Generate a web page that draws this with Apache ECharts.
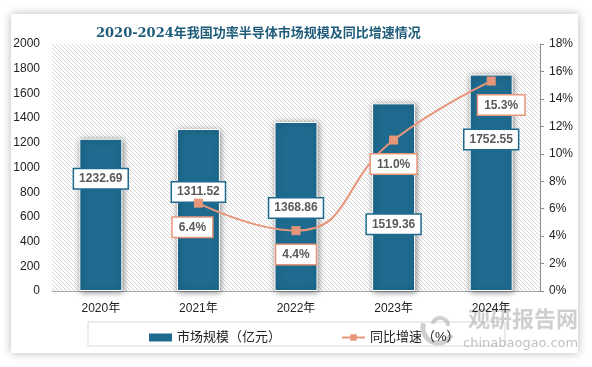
<!DOCTYPE html>
<html>
<head>
<meta charset="utf-8">
<script src="https://cdn.jsdelivr.net/npm/echarts@6/dist/echarts.min.js"></script>
<style>
html,body{margin:0;padding:0;background:#fff;width:592px;height:367px;overflow:hidden;}
#card{position:absolute;left:11px;top:14px;width:567px;height:339px;background:#fff;box-shadow:0 0 9px rgba(0,0,0,0.28);}
#chart{position:absolute;left:0;top:0;width:592px;height:367px;}
</style>
</head>
<body>
<div id="card"></div>
<div id="chart"></div>
<script>
// ---- data ----
var categories = ['2020年', '2021年', '2022年', '2023年', '2024年'];
var marketSize = [1232.69, 1311.52, 1368.86, 1519.36, 1752.55];   // 亿元
var growthRate = [null, 6.4, 4.4, 11.0, 15.3];                    // %
var leftTicks = { min: 0, max: 2000, interval: 200 };
var rightTicks = { min: 0, max: 18, interval: 2 };
var seriesNames = ['市场规模（亿元）', '同比增速（%）'];
var titleText = '2020-2024年我国功率半导体市场规模及同比增速情况';

// label placement styling (not data)
var barLabelDy = [40, 63, 86, 121, 65];
var lineLabelDx = [0, -6, 0, 0, 10];

var BAR = '#1E6B8F';
var LINE = '#E8967A';
var FONT = "'Liberation Sans', 'Noto Sans CJK SC', sans-serif";

// hatch pattern (diagonal "\" lines)
var pc = document.createElement('canvas');
pc.width = 8; pc.height = 8;
var g = pc.getContext('2d');
g.fillStyle = '#ffffff'; g.fillRect(0, 0, 8, 8);
g.strokeStyle = '#d6d6d6'; g.lineWidth = 1;
g.beginPath();
for (var k = -8; k <= 8; k += 4) {
  g.moveTo(k - 1, -1); g.lineTo(k + 9, 9);
}
g.stroke();

var barData = marketSize.map(function (v, i) {
  return {
    value: v,
    label: { position: ['50%', barLabelDy[i]] }
  };
});
var lineData = growthRate.map(function (v, i) {
  return { value: v, label: { offset: [lineLabelDx[i], 0] } };
});

var chart = echarts.init(document.getElementById('chart'), null, { renderer: 'canvas' });
chart.setOption({
  backgroundColor: 'transparent',
  animation: false,
  textStyle: { fontFamily: FONT },
  title: {
    text: titleText,
    left: 91, top: 22,
    textStyle: { fontFamily: "'DejaVu Serif', 'Noto Sans CJK SC', serif", fontSize: 13, fontWeight: 'bold', color: '#1F5C7A' }
  },
  grid: {
    left: 52, right: 52, top: 44, bottom: 76,
    show: true, borderWidth: 0,
    backgroundColor: { image: pc, repeat: 'repeat' }
  },
  legend: {
    left: 144, top: 326,
    itemWidth: 23, itemHeight: 8, itemGap: 60,
    textStyle: { fontSize: 13, color: '#222', fontFamily: FONT },
    data: [
      { name: seriesNames[0], icon: 'rect', itemStyle: { shadowBlur: 0, borderWidth: 0 } },
      { name: seriesNames[1] }
    ]
  },
  xAxis: {
    type: 'category',
    data: categories,
    axisLine: { lineStyle: { color: '#a6a6a6' } },
    axisTick: { show: false },
    axisLabel: { color: '#222', fontSize: 12, margin: 12, fontFamily: FONT }
  },
  yAxis: [
    {
      type: 'value', min: leftTicks.min, max: leftTicks.max, interval: leftTicks.interval,
      axisLine: { show: false }, axisTick: { show: false }, splitLine: { show: false },
      axisLabel: { color: '#222', fontSize: 12, margin: 12, fontFamily: FONT, formatter: function (v) { return String(v); } }
    },
    {
      type: 'value', min: rightTicks.min, max: rightTicks.max, interval: rightTicks.interval,
      position: 'right',
      axisLine: { show: true, lineStyle: { color: '#8c8c8c' } },
      axisTick: { show: true, length: 4, lineStyle: { color: '#8c8c8c' } },
      splitLine: { show: false },
      axisLabel: { color: '#222', fontSize: 12, margin: 9, formatter: '{value}%', fontFamily: FONT }
    }
  ],
  series: [
    {
      name: seriesNames[0],
      type: 'bar',
      barWidth: 43,
      data: barData,
      itemStyle: {
        color: BAR, borderColor: '#fff', borderWidth: 1,
        shadowBlur: 6, shadowColor: 'rgba(0,0,0,0.45)', shadowOffsetX: 1, shadowOffsetY: 1
      },
      label: {
        show: true,
        align: 'center', verticalAlign: 'middle',
        formatter: function (p) { return p.value.toFixed(2); },
        color: '#595959', fontWeight: 'bold', fontSize: 12, fontFamily: FONT,
        backgroundColor: '#fff', borderColor: BAR, borderWidth: 1.5,
        padding: [4, 5, 3, 5]
      },
      z: 2
    },
    {
      name: seriesNames[1],
      type: 'line',
      yAxisIndex: 1,
      smooth: true,
      data: lineData,
      symbol: 'rect', symbolSize: 9,
      lineStyle: { color: LINE, width: 2 },
      itemStyle: { color: LINE },
      label: {
        show: true, position: 'bottom', distance: 10,
        formatter: function (p) { return p.value == null ? '' : p.value.toFixed(1) + '%'; },
        color: '#595959', fontWeight: 'bold', fontSize: 12, fontFamily: FONT,
        backgroundColor: '#fff', borderColor: LINE, borderWidth: 1.5,
        padding: [4, 6, 3, 6]
      },
      z: 3
    }
  ],
  graphic: [
    { type: 'rect', shape: { x: 88, y: 322, width: 417, height: 24 }, style: { fill: 'none', stroke: '#d9d9d9', lineWidth: 1 }, z: -1, silent: true },
    { type: 'arc', shape: { cx: 438, cy: 328, r: 15, startAngle: Math.PI * 0.15, endAngle: Math.PI * 1.1 }, style: { fill: 'none', stroke: 'rgba(150,150,150,0.45)', lineWidth: 5 }, silent: true },
    { type: 'arc', shape: { cx: 440, cy: 326, r: 8, startAngle: Math.PI * 1.1, endAngle: Math.PI * 2.0 }, style: { fill: 'none', stroke: 'rgba(150,150,150,0.45)', lineWidth: 4 }, silent: true },
    { type: 'text', left: 468, top: 308, style: { text: '观研报告网', font: "bold 22px 'Noto Sans CJK SC'", fill: 'rgba(160,160,160,0.5)' }, silent: true },
    { type: 'text', left: 463, top: 337, style: { text: 'chinabaogao.com', font: "13px 'DejaVu Sans'", fill: 'rgba(150,150,150,0.6)' }, silent: true }
  ]
});
</script>
</body>
</html>
